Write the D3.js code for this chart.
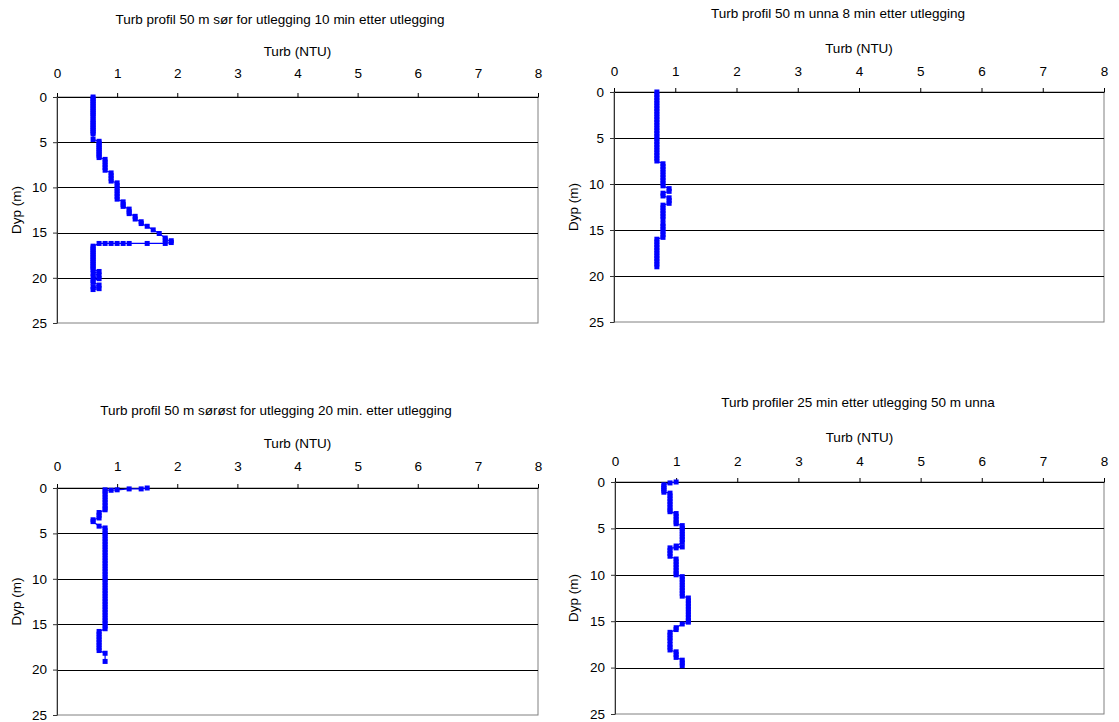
<!DOCTYPE html>
<html>
<head>
<meta charset="utf-8">
<script src="https://cdn.jsdelivr.net/npm/d3@7"></script>
<style>
  body { margin: 0; background: #fff; }
  text { font-family: Arial, "Liberation Sans", sans-serif; fill: #000; }
</style>
</head>
<body>
<div id="chart"></div>
<script>
// chart texts and ticks
var titles = [
  "Turb profil 50 m sør for utlegging 10 min etter utlegging",
  "Turb profil 50 m unna 8 min etter utlegging",
  "Turb profil 50 m sørøst for utlegging 20 min. etter utlegging",
  "Turb profiler 25 min etter utlegging 50 m unna"
];
var xLabel = "Turb (NTU)";
var yLabel = "Dyp (m)";
var xTicks = [0, 1, 2, 3, 4, 5, 6, 7, 8];
var yTicks = [0, 5, 10, 15, 20, 25];

// profile 1: 50 m south, 10 min
var depth1 = [0.0,0.2,0.4,0.6,0.8,1.0,1.2,1.4,1.6,1.8,2.0,2.2,2.5,2.7,2.9,3.1,3.3,3.5,3.7,3.9,4.1,4.7,
  4.9,5.1,5.3,5.5,5.7,5.9,6.1,6.3,6.5,6.7,
  6.9,7.2,7.5,7.8,8.1,
  8.4,8.7,9.0,9.3,
  9.5,9.8,10.1,10.4,10.7,11.0,11.3,
  11.6,11.9,12.1,12.4,12.7,12.9,13.2,13.5,13.8,14.0,14.3,14.7,15.1,
  15.6,15.8,15.9,16.1,16.2,16.2,16.2,16.2,16.2,16.2,16.2,16.2,
  16.5,16.7,16.9,17.1,17.3,17.5,17.7,17.9,18.1,18.3,18.5,18.7,18.9,19.1,
  19.3,19.5,19.7,19.9,20.1,20.3,20.5,20.8,21.0,21.2,21.3];
var turb1 = [0.6,0.6,0.6,0.6,0.6,0.6,0.6,0.6,0.6,0.6,0.6,0.6,0.6,0.6,0.6,0.6,0.6,0.6,0.6,0.6,0.6,0.6,
  0.7,0.7,0.7,0.7,0.7,0.7,0.7,0.7,0.7,0.7,
  0.8,0.8,0.8,0.8,0.8,
  0.9,0.9,0.9,0.9,
  1.0,1.0,1.0,1.0,1.0,1.0,1.0,
  1.1,1.1,1.1,1.2,1.2,1.2,1.3,1.3,1.4,1.4,1.5,1.6,1.7,
  1.8,1.8,1.9,1.9,1.8,1.5,1.2,1.1,1.0,0.9,0.8,0.7,
  0.6,0.6,0.6,0.6,0.6,0.6,0.6,0.6,0.6,0.6,0.6,0.6,0.6,0.6,
  0.7,0.6,0.7,0.6,0.7,0.6,0.6,0.7,0.6,0.7,0.6];

// profile 2: 50 m away, 8 min
var depth2 = [0.0,0.3,0.6,0.9,1.2,1.5,1.8,2.1,2.4,2.7,3.0,3.3,3.6,3.9,4.2,4.5,4.8,5.1,5.4,5.7,6.0,6.3,6.6,6.9,7.2,7.5,
  7.8,8.1,8.4,8.7,9.0,9.3,9.6,9.9,10.2,10.5,10.8,11.0,11.3,11.5,11.8,12.1,
  12.3,12.6,12.9,13.2,13.5,13.8,14.3,14.6,14.9,15.2,15.5,15.8,
  16.0,16.3,16.6,16.9,17.2,17.5,17.8,18.1,18.4,18.7,19.0];
var turb2 = [0.7,0.7,0.7,0.7,0.7,0.7,0.7,0.7,0.7,0.7,0.7,0.7,0.7,0.7,0.7,0.7,0.7,0.7,0.7,0.7,0.7,0.7,0.7,0.7,0.7,0.7,
  0.8,0.8,0.8,0.8,0.8,0.8,0.8,0.8,0.8,0.9,0.9,0.8,0.8,0.9,0.9,0.9,
  0.8,0.8,0.8,0.8,0.8,0.8,0.8,0.8,0.8,0.8,0.8,0.8,
  0.7,0.7,0.7,0.7,0.7,0.7,0.7,0.7,0.7,0.7,0.7];

// profile 3: 50 m south-east, 20 min
var depth3 = [0.0,0.1,0.1,0.2,0.25,0.2,
  0.4,0.7,1.0,1.3,1.6,1.9,2.2,2.4,
  2.7,3.0,3.3,3.5,3.7,4.2,
  4.4,4.7,5.0,5.3,5.6,5.9,6.2,6.5,6.8,7.1,7.4,7.7,8.0,8.3,8.6,8.9,9.2,9.5,9.8,10.1,10.4,10.7,11.0,11.3,11.6,11.9,12.2,12.5,12.8,13.1,13.4,13.7,14.0,14.3,14.6,14.9,15.2,15.5,
  15.8,16.1,16.4,16.7,17.0,17.3,17.6,17.9,18.2,19.1];
var turb3 = [1.5,1.4,1.2,1.0,0.9,0.8,
  0.8,0.8,0.8,0.8,0.8,0.8,0.8,0.8,
  0.7,0.7,0.7,0.6,0.6,0.7,
  0.8,0.8,0.8,0.8,0.8,0.8,0.8,0.8,0.8,0.8,0.8,0.8,0.8,0.8,0.8,0.8,0.8,0.8,0.8,0.8,0.8,0.8,0.8,0.8,0.8,0.8,0.8,0.8,0.8,0.8,0.8,0.8,0.8,0.8,0.8,0.8,0.8,0.8,
  0.7,0.7,0.7,0.7,0.7,0.7,0.7,0.7,0.8,0.8];

// profile 4: 25 min, 50 m away
var depth4 = [0.0,0.1,0.3,0.5,0.7,0.9,1.1,
  1.2,1.5,1.8,2.1,2.4,2.7,3.0,3.2,
  3.4,3.7,4.0,4.3,4.5,
  4.7,5.0,5.3,5.6,5.9,6.2,6.5,
  6.9,7.0,7.1,7.1,7.4,7.7,8.0,
  8.3,8.6,8.9,9.2,9.5,9.8,10.0,
  10.2,10.5,10.8,11.1,11.4,11.7,12.0,12.3,
  12.5,12.8,13.1,13.4,13.7,14.0,14.3,14.6,14.9,15.1,
  15.3,15.7,15.9,
  16.2,16.5,16.8,17.1,17.5,17.8,18.1,
  18.3,18.6,18.9,19.2,19.5,19.8];
var turb4 = [1.0,0.9,0.8,0.8,0.8,0.8,0.8,
  0.9,0.9,0.9,0.9,0.9,0.9,0.9,0.9,
  1.0,1.0,1.0,1.0,1.0,
  1.1,1.1,1.1,1.1,1.1,1.1,1.1,
  1.0,1.1,1.0,0.9,0.9,0.9,0.9,
  1.0,1.0,1.0,1.0,1.0,1.0,1.0,
  1.1,1.1,1.1,1.1,1.1,1.1,1.1,1.1,
  1.2,1.2,1.2,1.2,1.2,1.2,1.2,1.2,1.2,1.2,
  1.1,1.0,1.0,
  0.9,0.9,0.9,0.9,0.9,0.9,0.9,
  1.0,1.0,1.0,1.1,1.1,1.1];

var depths = [depth1, depth2, depth3, depth4];
var turbs = [turb1, turb2, turb3, turb4];

// where each small chart sits on the page
var panels = [
  {left: 57,  top: 97,  right: 538,  bottom: 323, titleX: 280, titleY: 24,  xlabY: 56,  tickGap: 19, ylabX: 21},
  {left: 614, top: 92,  right: 1104, bottom: 322, titleX: 838, titleY: 18,  xlabY: 53,  tickGap: 16, ylabX: 578},
  {left: 57,  top: 488, right: 538,  bottom: 715, titleX: 276, titleY: 415, xlabY: 448, tickGap: 17, ylabX: 21},
  {left: 615, top: 482, right: 1104, bottom: 714, titleX: 858, titleY: 407, xlabY: 442, tickGap: 16, ylabX: 578}
];

var fontSize = "13.5px";

var svg = d3.select("#chart")
  .append("svg")
    .attr("width", 1119)
    .attr("height", 722);

panels.forEach(function(p, i) {
  var width = p.right - p.left,
      height = p.bottom - p.top;

  var x = d3.scaleLinear().domain([0, 8]).range([0, width]);
  var y = d3.scaleLinear().domain([0, 25]).range([0, height]);

  var g = svg.append("g")
    .attr("transform", "translate(" + p.left + "," + p.top + ")");

  // plot area border (grey)
  g.append("rect")
    .attr("x", 0).attr("y", 0)
    .attr("width", width).attr("height", height)
    .attr("fill", "none")
    .attr("stroke", "#808080")
    .attr("stroke-width", 1);

  // horizontal gridlines
  g.selectAll(".grid")
    .data(yTicks.filter(function(d) { return d > 0 && d < 25; }))
    .enter().append("line")
      .attr("class", "grid")
      .attr("x1", 0).attr("x2", width)
      .attr("y1", function(d) { return Math.round(y(d)) + 0.5; })
      .attr("y2", function(d) { return Math.round(y(d)) + 0.5; })
      .attr("stroke", "#000")
      .attr("stroke-width", 1);

  // X axis on top
  var xAxis = g.append("g")
    .call(d3.axisTop(x).tickValues(xTicks).tickSize(4).tickSizeOuter(0).tickPadding(p.tickGap - 4)
      .tickFormat(d3.format("d")));
  xAxis.select(".domain").attr("stroke", "#000");
  xAxis.selectAll("line").attr("stroke", "#000");
  xAxis.selectAll("text").style("font-size", fontSize).attr("fill", "#000");

  // Y axis on left
  var yAxis = g.append("g")
    .call(d3.axisLeft(y).tickValues(yTicks).tickSize(4).tickSizeOuter(0).tickPadding(6));
  yAxis.select(".domain").attr("stroke", "#333");
  yAxis.selectAll("line").attr("stroke", "#333");
  yAxis.selectAll("text").style("font-size", fontSize).attr("fill", "#000");

  // titles
  svg.append("text")
    .attr("x", p.titleX).attr("y", p.titleY)
    .attr("text-anchor", "middle")
    .style("font-size", fontSize)
    .text(titles[i]);
  svg.append("text")
    .attr("x", p.left + width / 2).attr("y", p.xlabY)
    .attr("text-anchor", "middle")
    .style("font-size", fontSize)
    .text(xLabel);
  svg.append("text")
    .attr("transform", "translate(" + p.ylabX + "," + (p.top + height / 2) + ") rotate(-90)")
    .attr("text-anchor", "middle")
    .style("font-size", fontSize)
    .text(yLabel);

  // profile line and markers
  var pts = depths[i].map(function(d, k) { return {depth: d, turb: turbs[i][k]}; });

  g.append("path")
    .datum(pts)
    .attr("fill", "none")
    .attr("stroke", "#0000ff")
    .attr("stroke-width", 1.2)
    .attr("d", d3.line()
      .x(function(d) { return x(d.turb); })
      .y(function(d) { return y(d.depth); }));

  g.selectAll(".marker")
    .data(pts)
    .enter().append("rect")
      .attr("class", "marker")
      .attr("x", function(d) { return x(d.turb) - 2.5; })
      .attr("y", function(d) { return y(d.depth) - 2.5; })
      .attr("width", 5)
      .attr("height", 5)
      .attr("fill", "#0000ff");
});
</script>
</body>
</html>
